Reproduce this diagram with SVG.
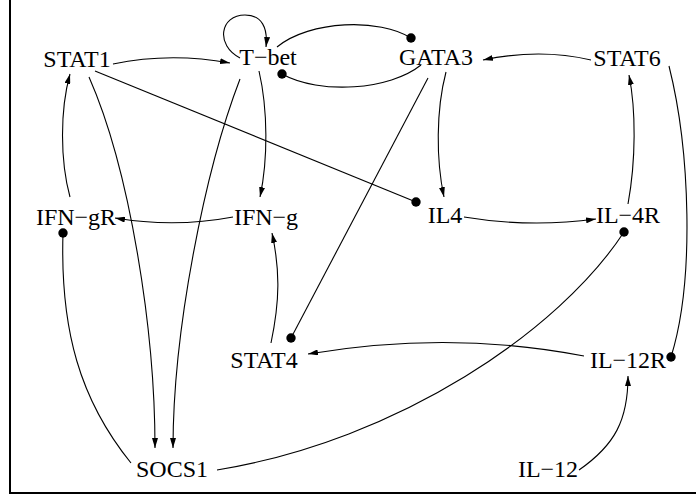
<svg xmlns="http://www.w3.org/2000/svg" width="696" height="500" viewBox="0 0 696 500">
<style>
  text { font-family: "Liberation Serif", "DejaVu Serif", serif; font-size: 24px; fill: #000; text-anchor: middle; }
  .e { fill: none; stroke: #000; stroke-width: 1.1; }
  .a { marker-end: url(#arrow); }
  .d { marker-end: url(#dot); }
</style>
<defs>
  <marker id="arrow" viewBox="0 0 10 6" refX="10" refY="3" markerWidth="10" markerHeight="6" markerUnits="userSpaceOnUse" orient="auto">
    <path d="M0,0 L10,3 L0,6 z" fill="#000"/>
  </marker>
  <marker id="dot" viewBox="0 0 10 10" refX="5" refY="5" markerWidth="10" markerHeight="10" markerUnits="userSpaceOnUse">
    <circle cx="5" cy="5" r="4.7" fill="#000"/>
  </marker>
</defs>
<rect x="0" y="0" width="696" height="500" fill="#fff"/>
<path d="M10,0 L10,493 L696,493" fill="none" stroke="#000" stroke-width="2"/>
<g id="connectors">
  <path class="e a" d="M240,58 C215,45 220,15 245,15 C262,15 268,28 266,47"/>
  <path class="e a" d="M113,64 Q170,52 230,63"/>
  <path class="e d" d="M277,47 C310,20 380,18 411,38"/>
  <path class="e d" d="M421,65 C390,90 320,95 282,74"/>
  <path class="e a" d="M591,60 Q540,48 483,60"/>
  <path class="e a" d="M446,72 C436,110 436,160 444,197"/>
  <path class="e a" d="M464,217 Q530,228 596,219"/>
  <path class="e a" d="M628,204 C636,160 636,110 629,75"/>
  <path class="e d" d="M669,66 C690,150 695,280 671,357"/>
  <path class="e d" d="M95,71 L416,202"/>
  <path class="e d" d="M428,78 L291,338"/>
  <path class="e a" d="M259,71 C268,110 268,160 260,197"/>
  <path class="e a" d="M233,217 Q175,228 115,218"/>
  <path class="e a" d="M70,197 C60,160 60,110 70,74"/>
  <path class="e a" d="M89,77 C130,170 155,330 155,448"/>
  <path class="e a" d="M240,79 C205,170 173,330 173,448"/>
  <path class="e d" d="M131,463 C80,400 60,330 63,233"/>
  <path class="e d" d="M217,470 C400,440 560,330 624,232"/>
  <path class="e a" d="M584,356 Q450,330 308,354"/>
  <path class="e a" d="M271,343 C280,300 280,270 272,233"/>
  <path class="e a" d="M579,470 C615,445 628,420 628,376"/>
</g>
<g id="STAT1"><text x="77" y="67">STAT1</text></g>
<g id="Tbet"><text x="268" y="65">T−bet</text></g>
<g id="GATA3"><text x="436" y="65">GATA3</text></g>
<g id="STAT6"><text x="627" y="66">STAT6</text></g>
<g id="IFNgR"><text x="76" y="225">IFN−gR</text></g>
<g id="IFNg"><text x="266" y="225">IFN−g</text></g>
<g id="IL4"><text x="445" y="223">IL4</text></g>
<g id="IL4R"><text x="628" y="223">IL−4R</text></g>
<g id="STAT4"><text x="264" y="368">STAT4</text></g>
<g id="IL12R"><text x="628" y="368">IL−12R</text></g>
<g id="SOCS1"><text x="172" y="477">SOCS1</text></g>
<g id="IL12"><text x="548" y="477">IL−12</text></g>
</svg>
